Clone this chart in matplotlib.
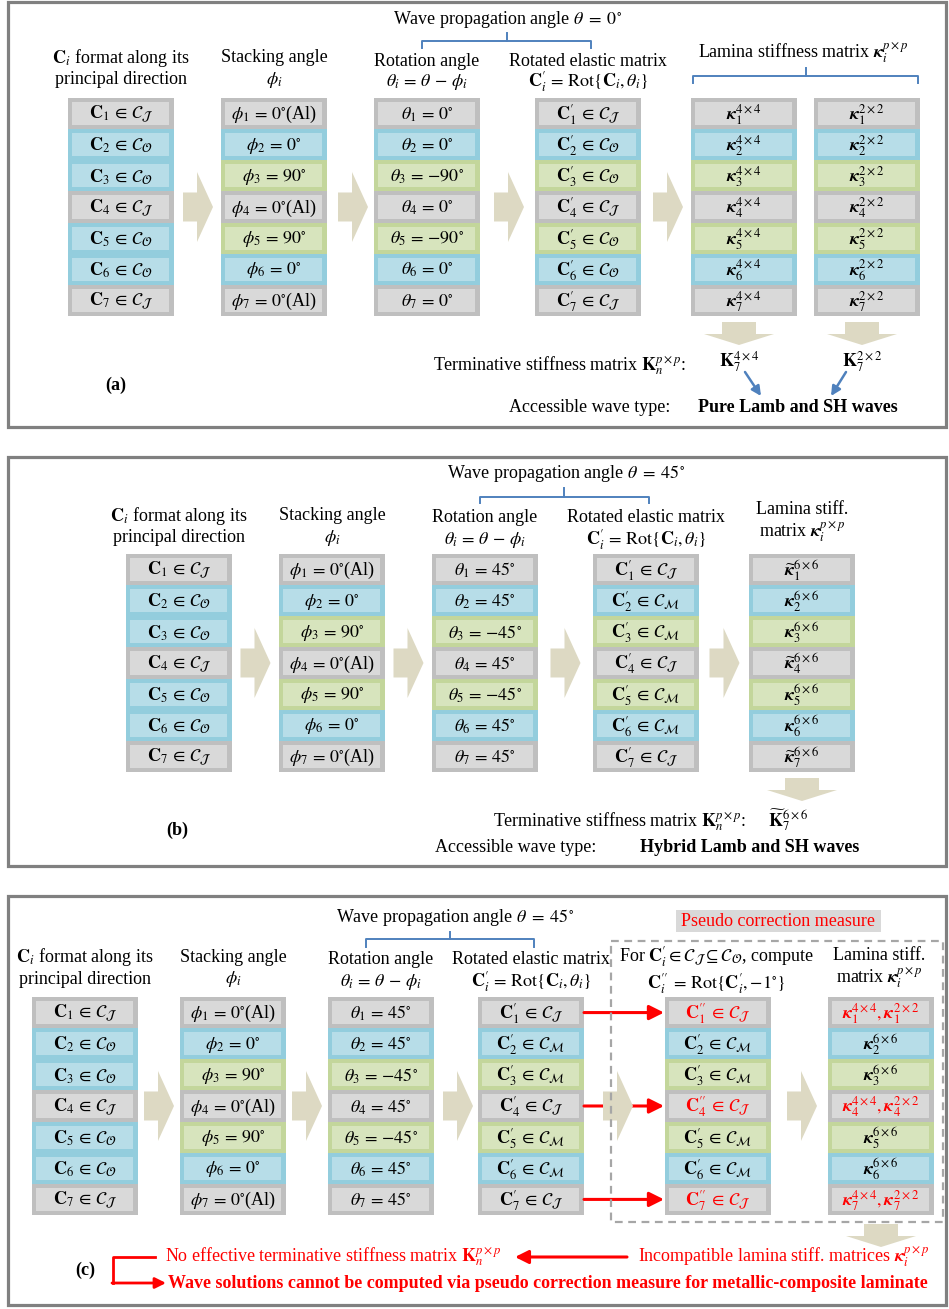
import numpy as np
import matplotlib.pyplot as plt
from matplotlib.patches import Rectangle, Polygon
from matplotlib.mathtext import MathTextParser

plt.rcParams['font.family'] = ['Liberation Serif', 'DejaVu Serif']
plt.rcParams['mathtext.fontset'] = 'stix'

# bold italic kappa if the mathtext parser knows \mathbfit
try:
    MathTextParser('path').parse(r'$\mathbfit{\kappa}$')
    KAP = r'\mathbfit{\kappa}'
except Exception:
    KAP = r'\mathbf{\kappa}'

# ---- data -------------------------------------------------------------
layers = [1, 2, 3, 4, 5, 6, 7]
material = ['J', 'O', 'O', 'J', 'O', 'O', 'J']      # principal-direction class
stack_deg = [0, 0, 90, 0, 90, 0, 0]                  # stacking angle phi_i
is_al = [True, False, False, True, False, False, True]
wave_angle = {'a': 0, 'b': 45, 'c': 45}
rot_class = {'a': ['J', 'O', 'O', 'J', 'O', 'O', 'J'],
             'b': ['J', 'M', 'M', 'J', 'M', 'M', 'J'],
             'c': ['J', 'M', 'M', 'J', 'M', 'M', 'J']}
stiff_sizes_a = ['4\\times4', '2\\times2']

# ---- styling ----------------------------------------------------------
FILL = {'gray': '#D9D9D9', 'blue': '#B7DDE8', 'green': '#D7E4BD'}
EDGE = {'gray': '#BFBFBF', 'blue': '#93CDDD', 'green': '#C3D69B'}
BEIGE = '#DDD9C3'
BLUE = '#4F81BD'
RED = '#FF0000'
ROW_H = 31.14
COL_W = 106
FS = 13

W, H = 949, 1309
fig = plt.figure(figsize=(W / 100, H / 100), dpi=100)
ax = fig.add_axes([0, 0, 1, 1])
ax.set_xlim(0, W)
ax.set_ylim(H, 0)
ax.axis('off')


def cal(c):
    return r'\mathcal{C}_{\mathcal{%s}}' % c


def angle_kind(i):
    if is_al[i]:
        return 'gray'
    return 'blue' if stack_deg[i] == 0 else 'green'


mat_kinds = ['gray' if m == 'J' else 'blue' for m in material]
ang_kinds = [angle_kind(i) for i in range(7)]


def column(x0, y0, labels, kinds, colors=None):
    for i, (lab, k) in enumerate(zip(labels, kinds)):
        y = y0 + i * ROW_H
        ax.add_patch(Rectangle((x0, y), COL_W, ROW_H, fc=EDGE[k], ec='none', zorder=2))
        ax.add_patch(Rectangle((x0 + 4.5, y + 4), COL_W - 9, ROW_H - 8,
                               fc=FILL[k], ec='none', zorder=2))
        c = colors[i] if colors else 'black'
        ax.text(x0 + COL_W / 2, y + ROW_H / 2 + 1, lab, ha='center', va='center',
                fontsize=FS, color=c, zorder=3)


def right_arrow(xc, yc):
    L, sw, sh, hh = 30, 14, 14.5, 35
    x0 = xc - L / 2
    pts = [(x0, yc - sh), (x0 + sw, yc - sh), (x0 + sw, yc - hh), (x0 + L, yc),
           (x0 + sw, yc + hh), (x0 + sw, yc + sh), (x0, yc + sh)]
    ax.add_patch(Polygon(pts, closed=True, fc=BEIGE, ec='none', zorder=4))


def down_arrow(xc, y0):
    hw, sw, sh, hh = 35, 17, 12, 11
    pts = [(xc - sw, y0), (xc + sw, y0), (xc + sw, y0 + sh), (xc + hw, y0 + sh),
           (xc, y0 + sh + hh), (xc - hw, y0 + sh), (xc - sw, y0 + sh)]
    ax.add_patch(Polygon(pts, closed=True, fc=BEIGE, ec='none', zorder=4))


def brace(x0, x1, xt, yh, ytop, ybot):
    ax.plot([x0, x0, x1, x1], [ybot, yh, yh, ybot], color=BLUE, lw=1.4, zorder=3)
    ax.plot([xt, xt], [yh, ytop], color=BLUE, lw=1.4, zorder=3)


def frame(y0, y1):
    ax.add_patch(Rectangle((8, y0), 938, y1 - y0, fc='none', ec='#808080', lw=2.3, zorder=1))


def txt(x, y, s, ha='center', **kw):
    kw.setdefault('fontsize', FS)
    ax.text(x, y, s, ha=ha, va='center', **kw)


def arrow(x0, y0, x1, y1, color, lw=2.0, ms=18):
    ax.annotate('', xy=(x1, y1), xytext=(x0, y0), zorder=3,
                arrowprops=dict(arrowstyle='-|>', color=color, lw=lw, mutation_scale=ms,
                                shrinkA=0, shrinkB=0))


# label lists
C_labels = [r'$\mathbf{C}_%d \,\in\, %s$' % (n, cal(m)) for n, m in zip(layers, material)]
phi_labels = [r'$\phi_%d \,=\, 0^{\circ}$(Al)' % n if al else r'$\phi_%d \,=\, %d^{\circ}$' % (n, d)
              for n, d, al in zip(layers, stack_deg, is_al)]


def theta_labels(p):
    out = []
    for n, d in zip(layers, stack_deg):
        v = wave_angle[p] - d
        out.append(r'$\theta_%d \,=\, %s%d^{\circ}$' % (n, '{-}' if v < 0 else '', abs(v)))
    return out


def rot_labels(p):
    return [r'$\mathbf{C}_%d^{\prime} \,\in\, %s$' % (n, cal(m)) for n, m in zip(layers, rot_class[p])]


# ======================= panel (a) =====================================
frame(2, 427)
ya = 98
xa = [68, 221, 374, 535, 691, 814]
column(xa[0], ya, C_labels, mat_kinds)
column(xa[1], ya, phi_labels, ang_kinds)
column(xa[2], ya, theta_labels('a'), ang_kinds)
column(xa[3], ya, rot_labels('a'), ang_kinds)
for j, sz in enumerate(stiff_sizes_a):
    column(xa[4 + j], ya, [r'$%s_%d^{%s}$' % (KAP, n, sz) for n in layers], ang_kinds)
for xc in [198, 353, 509, 668]:
    right_arrow(xc, ya + 3.5 * ROW_H)

txt(507, 20, r'Wave propagation angle $\theta\;=\;0^{\circ}$')
brace(422, 591, 507, 41, 33, 48)
txt(121, 58, r'$\mathbf{C}_i$ format along its')
txt(121, 80, 'principal direction')
txt(274, 58, 'Stacking angle')
txt(274, 80, r'$\phi_i$')
txt(427, 61, 'Rotation angle')
txt(427, 82, r'$\theta_i \,=\, \theta \,-\, \phi_i$')
txt(588, 61, 'Rotated elastic matrix')
txt(588, 82, r'$\mathbf{C}_i^{\prime} \,=\, \mathrm{Rot}\{\mathbf{C}_i, \theta_i\}$')
txt(803, 53, r'Lamina stiffness matrix $%s_i^{p\times p}$' % KAP)
brace(693, 918, 806, 76, 68, 83)

down_arrow(739, 322)
down_arrow(862, 322)
txt(686, 366, r'Terminative stiffness matrix $\mathbf{K}_n^{p\times p}$:', ha='right')
txt(739, 362, r'$\mathbf{K}_7^{4\times4}$')
txt(862, 362, r'$\mathbf{K}_7^{2\times2}$')
arrow(745, 372, 761, 396, BLUE, lw=1.8, ms=14)
arrow(846, 372, 831, 396, BLUE, lw=1.8, ms=14)
txt(670, 407, 'Accessible wave type:', ha='right')
txt(698, 407, 'Pure Lamb and SH waves', ha='left', fontweight='bold')
txt(116, 385, '(a)', fontweight='bold')

# ======================= panel (b) =====================================
frame(457, 866)
yb = 554
xb = [126, 279, 432, 593, 749]
column(xb[0], yb, C_labels, mat_kinds)
column(xb[1], yb, phi_labels, ang_kinds)
column(xb[2], yb, theta_labels('b'), ang_kinds)
column(xb[3], yb, rot_labels('b'), ang_kinds)
kap_b = [(r'$\widetilde{%s}_%d^{6\times6}$' if m == 'J' else r'$%s_%d^{6\times6}$') % (KAP, n)
         for n, m in zip(layers, rot_class['b'])]
column(xb[4], yb, kap_b, ang_kinds)
for xc in [255.5, 408.5, 565.5, 724.5]:
    right_arrow(xc, yb + 3.5 * ROW_H)

txt(566, 473, r'Wave propagation angle $\theta\;=\;45^{\circ}$')
brace(480, 649, 564, 497, 488, 503)
txt(179, 516, r'$\mathbf{C}_i$ format along its')
txt(179, 538, 'principal direction')
txt(332, 516, 'Stacking angle')
txt(332, 538, r'$\phi_i$')
txt(485, 518, 'Rotation angle')
txt(485, 540, r'$\theta_i \,=\, \theta \,-\, \phi_i$')
txt(646, 518, 'Rotated elastic matrix')
txt(646, 540, r'$\mathbf{C}_i^{\prime} \,=\, \mathrm{Rot}\{\mathbf{C}_i, \theta_i\}$')
txt(802, 509, 'Lamina stiff.')
txt(802, 532, r'matrix $%s_i^{p\times p}$' % KAP)

down_arrow(802, 778)
txt(746, 822, r'Terminative stiffness matrix $\mathbf{K}_n^{p\times p}$:', ha='right')
txt(768, 820, r'$\widetilde{\mathbf{K}}_7^{6\times6}$', ha='left')
txt(435, 847, 'Accessible wave type:', ha='left')
txt(640, 847, 'Hybrid Lamb and SH waves', ha='left', fontweight='bold')
txt(177, 830, '(b)', fontweight='bold')

# ======================= panel (c) =====================================
frame(896, 1305)
yc = 997
xcs = [32, 180, 328, 478, 665, 828]
red_rows = [m == 'J' for m in rot_class['c']]
row_y = [yc + (i + 0.5) * ROW_H for i in range(7)]
for i, r in enumerate(red_rows):
    if r:
        arrow(xcs[3] + COL_W, row_y[i], xcs[4] - 1, row_y[i], RED, lw=2.2, ms=22)

column(xcs[0], yc, C_labels, mat_kinds)
column(xcs[1], yc, phi_labels, ang_kinds)
column(xcs[2], yc, theta_labels('c'), ang_kinds)
column(xcs[3], yc, rot_labels('c'), ang_kinds)
c5 = [(r'$\mathbf{C}_%d^{\prime\prime} \,\in\, %s$' if r else r'$\mathbf{C}_%d^{\prime} \,\in\, %s$')
      % (n, cal(m)) for n, m, r in zip(layers, rot_class['c'], red_rows)]
c6 = [(r'$%s_%d^{4\times4}, %s_%d^{2\times2}$' % (KAP, n, KAP, n)) if r
      else r'$%s_%d^{6\times6}$' % (KAP, n) for n, r in zip(layers, red_rows)]
colors = [RED if r else 'black' for r in red_rows]
column(xcs[4], yc, c5, ang_kinds, colors=colors)
column(xcs[5], yc, c6, ang_kinds, colors=colors)
for xc in [159, 307, 458, 618, 802]:
    right_arrow(xc, yc + 3.5 * ROW_H)

ax.add_patch(Rectangle((611, 941), 332, 281, fc='none', ec='#A6A6A6', lw=1.6,
                       ls=(0, (3.5, 2.5)), zorder=5))
ax.add_patch(Rectangle((676, 910), 205, 22, fc='#D9D9D9', ec='none'))
txt(778, 921, 'Pseudo correction measure', color=RED)

txt(455, 917, r'Wave propagation angle $\theta\;=\;45^{\circ}$')
brace(366, 534, 450, 939, 932, 947)
txt(85, 957, r'$\mathbf{C}_i$ format along its')
txt(85, 979, 'principal direction')
txt(233, 957, 'Stacking angle')
txt(233, 979, r'$\phi_i$')
txt(381, 959, 'Rotation angle')
txt(381, 982, r'$\theta_i \,=\, \theta \,-\, \phi_i$')
txt(531, 959, 'Rotated elastic matrix')
txt(531, 982, r'$\mathbf{C}_i^{\prime} \,=\, \mathrm{Rot}\{\mathbf{C}_i, \theta_i\}$')
txt(716, 957, r'For $\mathbf{C}_i^{\prime} \in \mathcal{C}_{\mathcal{J}} \subseteq \mathcal{C}_{\mathcal{O}}$, compute')
txt(716, 984, r'$\mathbf{C}_i^{\prime\prime} \,=\, \mathrm{Rot}\{\mathbf{C}_i^{\prime}, {-}1^{\circ}\}$')
txt(879, 956, 'Lamina stiff.')
txt(879, 978, r'matrix $%s_i^{p\times p}$' % KAP)

down_arrow(881, 1224)
txt(165, 1257, r'No effective terminative stiffness matrix $\mathbf{K}_n^{p\times p}$',
    ha='left', color=RED)
arrow(627, 1257, 515, 1257, RED, lw=2.2, ms=20)
txt(638, 1257, r'Incompatible lamina stiff. matrices $%s_i^{p\times p}$' % KAP,
    ha='left', color=RED)
ax.plot([155, 113, 113], [1257, 1257, 1283], color=RED, lw=2.0)
arrow(112, 1283, 166, 1283, RED, lw=2.0, ms=16)
txt(168, 1283, 'Wave solutions cannot be computed via pseudo correction measure for '
    'metallic-composite laminate', ha='left', color=RED, fontweight='bold', fontsize=13)
txt(85, 1270, '(c)', fontweight='bold')

fig.savefig('out.png', dpi=100)
plt.close(fig)
